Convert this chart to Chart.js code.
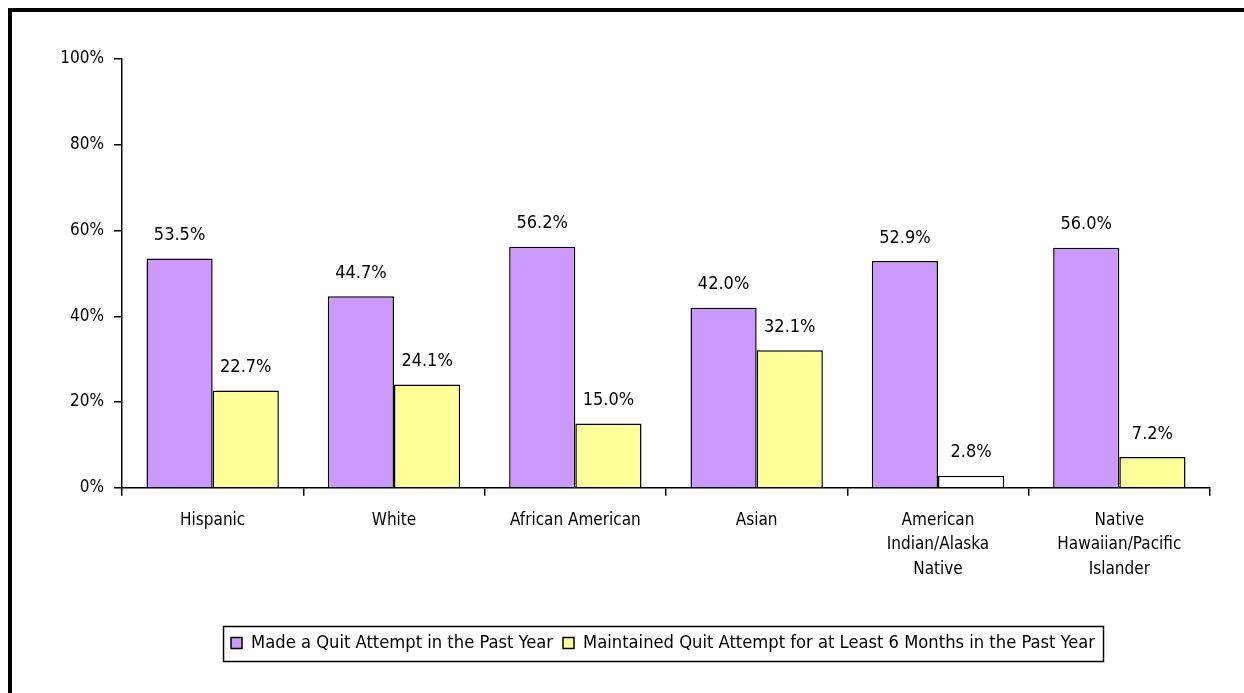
<!DOCTYPE html>
<html>
<head>
<meta charset="utf-8">
<script src="https://cdn.jsdelivr.net/npm/chart.js@4/dist/chart.umd.min.js"></script>
<style>
  html, body { margin: 0; padding: 0; background: #fff; }
  #wrap { position: relative; width: 1244px; height: 693px; }
</style>
</head>
<body>
<div id="wrap"><canvas id="quitChart" width="1244" height="693"></canvas></div>
<script>
const categories = [
  'Hispanic',
  'White',
  'African American',
  'Asian',
  ['American', 'Indian/Alaska', 'Native'],
  ['Native', 'Hawaiian/Pacific', 'Islander']
];
const madeAttempt = [53.5, 44.7, 56.2, 42.0, 52.9, 56.0];
const maintainedAttempt = [22.7, 24.1, 15.0, 32.1, 2.8, 7.2];
const yTicks = [0, 20, 40, 60, 80, 100];

const FONT = "'Liberation Sans Narrow', 'DejaVu Sans Condensed', sans-serif";
Chart.defaults.font.family = FONT;
Chart.defaults.color = '#000';

// yellow bars, the AI/AN one comes out white in the original
const yellowFill = maintainedAttempt.map((v, i) => i === 4 ? '#ffffff' : '#ffff99');

const valueLabels = {
  id: 'valueLabels',
  afterDatasetsDraw(chart) {
    const c = chart.ctx;
    c.save();
    c.font = '18px ' + FONT;
    c.fillStyle = '#000';
    c.textAlign = 'center';
    c.textBaseline = 'middle';
    chart.data.datasets.forEach((ds, di) => {
      chart.getDatasetMeta(di).data.forEach((bar, i) => {
        c.fillText(ds.data[i].toFixed(1) + '%', bar.x, bar.y - 23);
      });
    });
    c.restore();
  }
};

// legend sits a bit right of centre in the original
const LEGEND_SHIFT = 58;
const LEGEND_PAD = 10;

const frame = {
  id: 'frame',
  afterLayout(chart) {
    const lg = chart.legend;
    lg.left += LEGEND_SHIFT;
    lg.right += LEGEND_SHIFT;
  },
  afterDraw(chart) {
    const c = chart.ctx;
    c.save();
    // outer border (only top and left show in the picture)
    c.strokeStyle = '#000';
    c.lineWidth = 4;
    c.beginPath();
    c.moveTo(10, 700);
    c.lineTo(10, 10);
    c.lineTo(1250, 10);
    c.stroke();
    // box round the legend row
    const lg = chart.legend;
    const lw = lg.lineWidths[0];
    const x0 = (lg.left + LEGEND_PAD + lg.right - lw) / 2;
    const left = x0 - 8;
    const right = x0 + lw - LEGEND_PAD + 8;
    const top = lg.top + LEGEND_PAD - 8;
    c.lineWidth = 1.5;
    c.strokeRect(Math.round(left) + 0.5, Math.round(top) + 0.5, Math.round(right - left), 35);
    c.restore();
  }
};

new Chart(document.getElementById('quitChart'), {
  type: 'bar',
  data: {
    labels: categories,
    datasets: [
      {
        label: 'Made a Quit Attempt in the Past Year',
        data: madeAttempt,
        backgroundColor: '#cc99ff',
        borderColor: '#000',
        borderWidth: 1.5,
        borderSkipped: 'bottom',
        categoryPercentage: 0.73,
        barPercentage: 1
      },
      {
        label: 'Maintained Quit Attempt for at Least 6 Months in the Past Year',
        data: maintainedAttempt,
        backgroundColor: yellowFill,
        borderColor: '#000',
        borderWidth: 1.5,
        borderSkipped: 'bottom',
        categoryPercentage: 0.73,
        barPercentage: 1
      }
    ]
  },
  options: {
    responsive: false,
    animation: false,
    layout: { padding: { top: 59, right: 34, left: 0, bottom: 31 } },
    plugins: {
      legend: {
        position: 'bottom',
        labels: {
          font: { size: 18.2 },
          boxWidth: 11,
          boxHeight: 11,
          padding: LEGEND_PAD,
          generateLabels(chart) {
            return chart.data.datasets.map((ds, i) => ({
              text: ds.label,
              fillStyle: i === 0 ? '#cc99ff' : '#ffff99',
              strokeStyle: '#000',
              lineWidth: 1.5,
              datasetIndex: i
            }));
          }
        }
      },
      tooltip: { enabled: false }
    },
    scales: {
      x: {
        grid: { display: true, offset: true, drawOnChartArea: false, drawTicks: true, tickLength: 8, color: '#000', lineWidth: 1.5 },
        border: { color: '#000', width: 1.5 },
        ticks: { font: { size: 17, lineHeight: 1.45 }, padding: 12, maxRotation: 0, autoSkip: false },
        afterFit(s) { s.height = 136; }
      },
      y: {
        min: 0,
        max: 100,
        afterBuildTicks(s) { s.ticks = yTicks.map(v => ({ value: v })); },
        grid: { display: true, drawOnChartArea: false, drawTicks: true, tickLength: 8, color: '#000', lineWidth: 1.5 },
        border: { color: '#000', width: 1.5 },
        ticks: { font: { size: 17 }, padding: 10, callback: v => v + '%' },
        afterFit(s) { s.width = 122; }
      }
    }
  },
  plugins: [valueLabels, frame]
});
</script>
</body>
</html>
